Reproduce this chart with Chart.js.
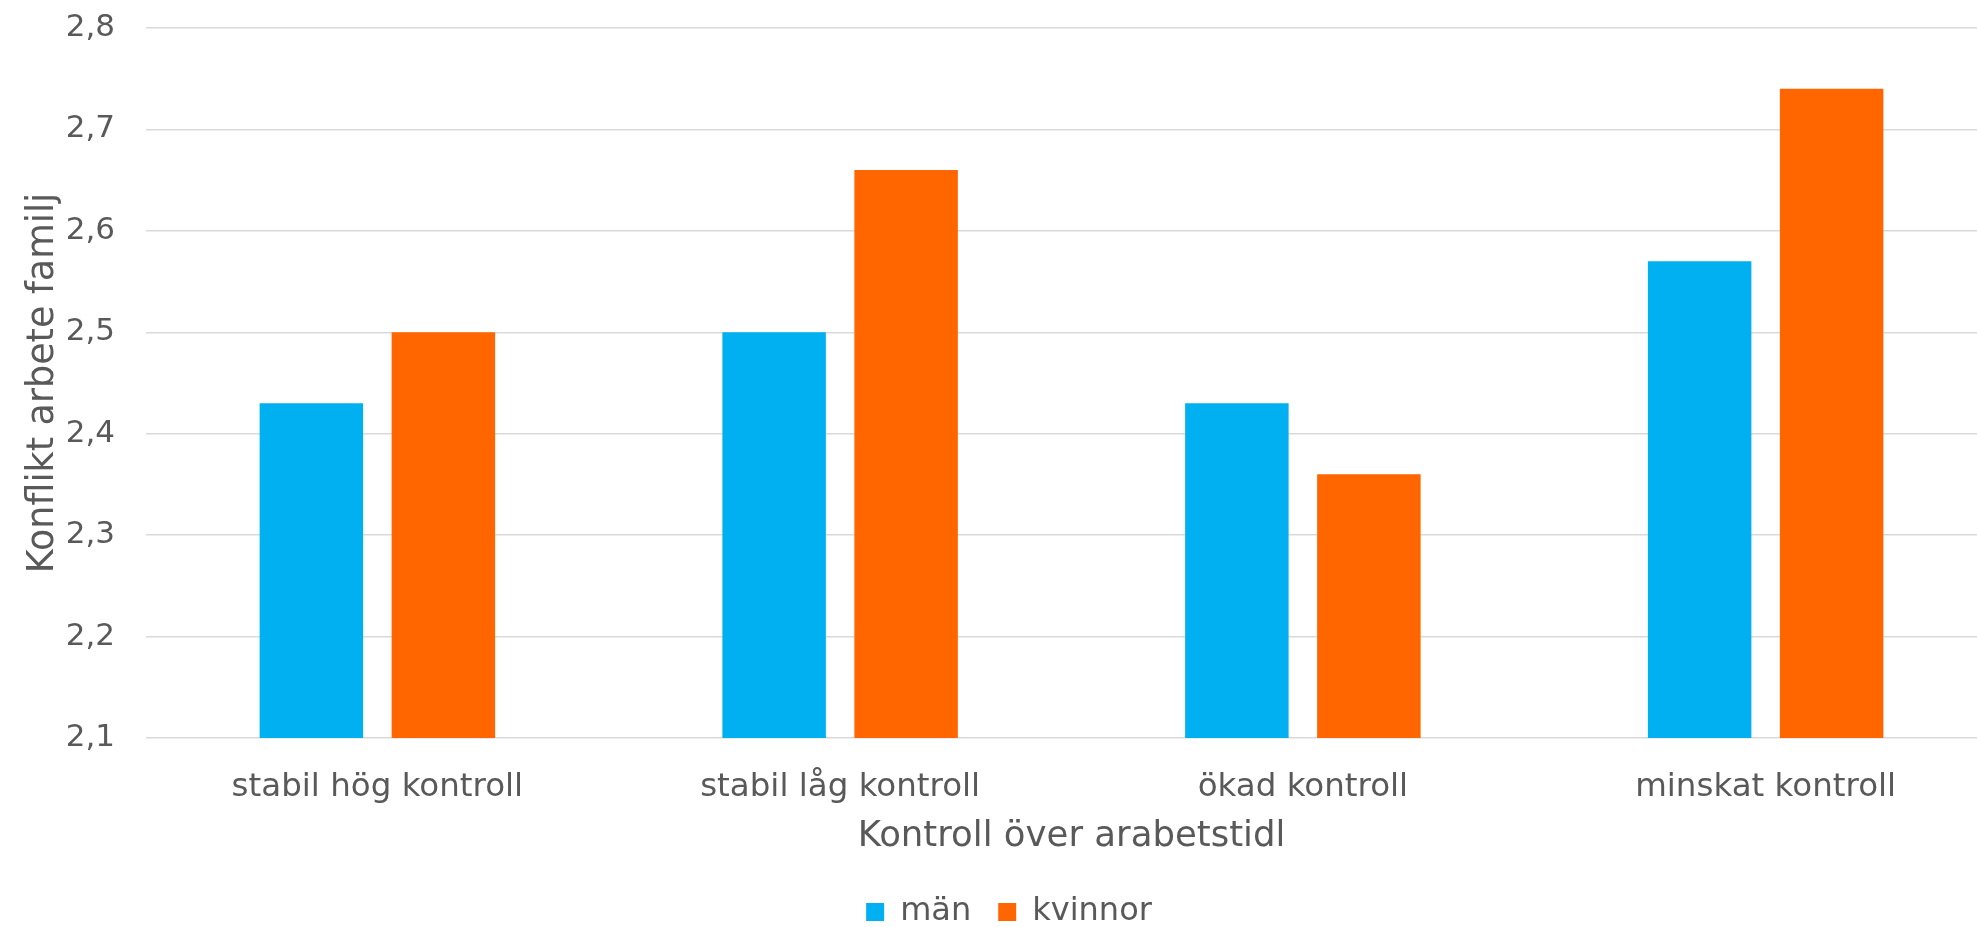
<!DOCTYPE html>
<html><head><meta charset="utf-8">
<script src="https://cdn.jsdelivr.net/npm/chart.js@4/dist/chart.umd.min.js"></script>
<style>
html,body{margin:0;padding:0;overflow:hidden;background:#fff}
#wrap{width:2024px;height:938px;position:relative}
</style>
</head><body>
<div id="wrap"><canvas id="c"></canvas></div>
<script>
const categories = ['stabil hög kontroll', 'stabil låg kontroll', 'ökad kontroll', 'minskat kontroll'];
const seriesNames = ['män', 'kvinnor'];
const manValues = [2.43, 2.50, 2.43, 2.57];
const kvinnorValues = [2.50, 2.66, 2.36, 2.74];
const yMin = 2.1, yMax = 2.8, yStep = 0.1;
const xTitle = 'Kontroll över arabetstidl';
const yTitle = 'Konflikt arbete familj';

const TXT = '#595959';
Chart.defaults.font.family = "'DejaVu Sans', Verdana, sans-serif";
Chart.defaults.color = TXT;

new Chart(document.getElementById('c'), {
  type: 'bar',
  data: {
    labels: categories,
    datasets: [
      { label: seriesNames[0], data: manValues, backgroundColor: '#00B0F0', categoryPercentage: 0.5705, barPercentage: 0.784 },
      { label: seriesNames[1], data: kvinnorValues, backgroundColor: '#FF6600', categoryPercentage: 0.5705, barPercentage: 0.784 }
    ]
  },
  options: {
    responsive: true,
    maintainAspectRatio: false,
    animation: false,
    layout: { padding: { top: 28, right: 27, bottom: 0, left: 21 } },
    plugins: {
      legend: {
        position: 'bottom',
        labels: { font: { size: 32 }, boxWidth: 18, boxHeight: 18, padding: 27, color: TXT }
      },
      tooltip: { enabled: false }
    },
    scales: {
      x: {
        grid: { display: false },
        border: { display: false },
        ticks: { font: { size: 32.5 }, padding: 22, maxRotation: 0, autoSkip: false, color: TXT },
        title: { display: true, text: xTitle, font: { size: 35.5 }, padding: { top: 6, bottom: 11 }, color: TXT },
        afterFit: (s) => { s.height = 131; }
      },
      y: {
        min: yMin, max: yMax,
        grid: { color: '#D9D9D9', lineWidth: 1.5, drawTicks: true, tickLength: 31, tickColor: 'rgba(0,0,0,0)' },
        border: { display: false },
        ticks: {
          stepSize: yStep, font: { size: 31 }, padding: 0, color: TXT,
          callback: (v) => Number(v).toFixed(1).replace('.', ',')
        },
        title: { display: true, text: yTitle, font: { size: 36.5 }, padding: { top: 1, bottom: 0 }, color: TXT },
        afterFit: (s) => { s.width = 125; }
      }
    }
  }
});
</script>
</body></html>
